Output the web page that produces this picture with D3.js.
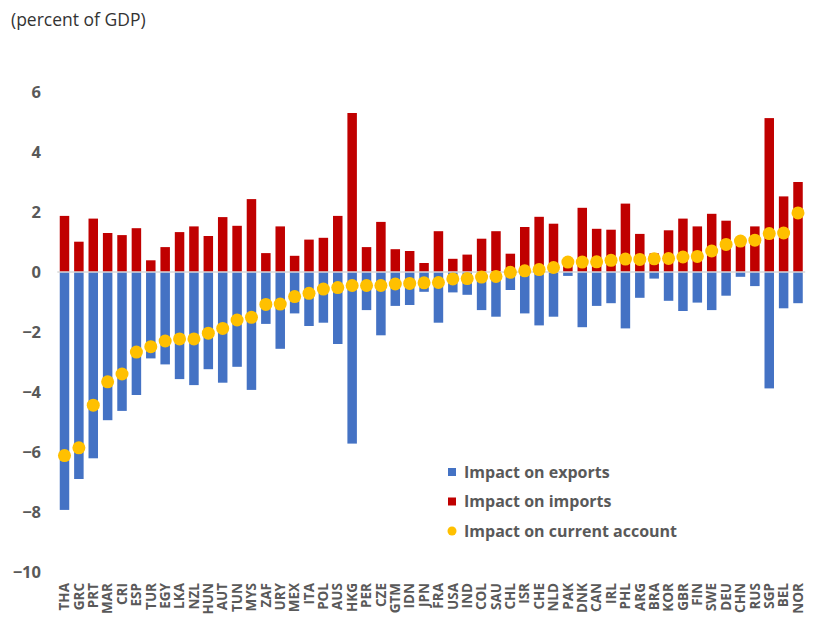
<!DOCTYPE html>
<html>
<head>
<meta charset="utf-8">
<script src="https://cdn.jsdelivr.net/npm/d3@7"></script>
<style>
  body { margin: 0; background: #fff; }
  text { font-family: "Open Sans", "Liberation Sans", sans-serif; }
</style>
</head>
<body>
<div id="chart"></div>
<script>
// Chart data
var countries = ["THA", "GRC", "PRT", "MAR", "CRI", "ESP", "TUR", "EGY", "LKA", "NZL", "HUN", "AUT", "TUN",
    "MYS", "ZAF", "URY", "MEX", "ITA", "POL", "AUS", "HKG", "PER", "CZE", "GTM", "IDN", "JPN", "FRA", "USA",
    "IND", "COL", "SAU", "CHL", "ISR", "CHE", "NLD", "PAK", "DNK", "CAN", "IRL", "PHL", "ARG", "BRA", "KOR",
    "GBR", "FIN", "SWE", "DEU", "CHN", "RUS", "SGP", "BEL", "NOR"];

var exportsImpact = [-7.93, -6.9, -6.21, -4.94, -4.63, -4.1, -2.88, -3.08, -3.57, -3.77, -3.24, -3.69, -3.16,
    -3.93, -1.73, -2.56, -1.38, -1.8, -1.69, -2.4, -5.72, -1.27, -2.11, -1.13, -1.1, -0.66, -1.69, -0.68,
    -0.76, -1.27, -1.49, -0.6, -1.38, -1.78, -1.49, -0.13, -1.84, -1.13, -1.04, -1.88, -0.86, -0.22, -0.96,
    -1.3, -1.02, -1.27, -0.79, -0.16, -0.47, -3.88, -1.21, -1.04];

var importsImpact = [1.87, 1.01, 1.78, 1.3, 1.23, 1.46, 0.39, 0.83, 1.33, 1.52, 1.2, 1.83, 1.54,
    2.43, 0.63, 1.52, 0.54, 1.08, 1.14, 1.87, 5.3, 0.83, 1.67, 0.76, 0.7, 0.3, 1.36, 0.44,
    0.58, 1.11, 1.36, 0.61, 1.5, 1.84, 1.61, 0.45, 2.14, 1.44, 1.41, 2.28, 1.27, 0.62, 1.39,
    1.78, 1.52, 1.94, 1.71, 1.15, 1.52, 5.13, 2.52, 3.0];

var currentAccount = [-6.12, -5.86, -4.44, -3.66, -3.4, -2.67, -2.49, -2.3, -2.23, -2.23, -2.04, -1.88, -1.6,
    -1.51, -1.08, -1.07, -0.82, -0.71, -0.57, -0.52, -0.45, -0.45, -0.45, -0.4, -0.38, -0.36, -0.35, -0.23,
    -0.22, -0.17, -0.15, -0.01, 0.04, 0.08, 0.15, 0.33, 0.33, 0.34, 0.39, 0.43, 0.42, 0.44, 0.45,
    0.5, 0.52, 0.7, 0.92, 1.03, 1.06, 1.28, 1.3, 1.97];

var yTicks = [6, 4, 2, 0, -2, -4, -6, -8, -10];

var legendLabels = ["Impact on exports", "Impact on imports", "Impact on current account"];
var colors = ["#4472C4", "#C00000", "#FFC000"];

// Build rows from the arrays
var data = countries.map(function (c, i) {
    return { country: c, exp: exportsImpact[i], imp: importsImpact[i], ca: currentAccount[i] };
});

var svgWidth = 817;
var svgHeight = 628;

var svg = d3.select("#chart")
    .append("svg")
    .attr("width", svgWidth)
    .attr("height", svgHeight);

// Scales
var xScale = d3.scaleBand()
    .domain(countries)
    .range([57.3, 805.2])
    .paddingInner(0.34)
    .paddingOuter(0.17);

var yScale = d3.scaleLinear()
    .domain([-10, 6])
    .range([572, 92]);

// Title
svg.append("text")
    .attr("x", 11)
    .attr("y", 26)
    .attr("font-family", "Roboto, sans-serif")
    .attr("font-size", 17.5)
    .attr("fill", "#333")
    .text("(percent of GDP)");

// Y axis (labels only)
var leftAxis = d3.axisLeft(yScale)
    .tickValues(yTicks)
    .tickSize(0)
    .tickPadding(0)
    .tickFormat(d3.format("d"));

var yAxis = svg.append("g")
    .attr("transform", "translate(41, 0)")
    .call(leftAxis);

yAxis.select(".domain").remove();
yAxis.selectAll("text")
    .attr("font-size", 16.5)
    .attr("font-weight", "bold")
    .attr("fill", "#595959")
    .attr("font-family", "'Open Sans', sans-serif");

// Export bars (negative)
svg.append("g").selectAll("rect")
    .data(data)
    .enter()
    .append("rect")
    .attr("x", d => xScale(d.country))
    .attr("width", xScale.bandwidth())
    .attr("y", yScale(0))
    .attr("height", d => yScale(d.exp) - yScale(0))
    .attr("fill", colors[0]);

// Import bars (positive)
svg.append("g").selectAll("rect")
    .data(data)
    .enter()
    .append("rect")
    .attr("x", d => xScale(d.country))
    .attr("width", xScale.bandwidth())
    .attr("y", d => yScale(d.imp))
    .attr("height", d => yScale(0) - yScale(d.imp))
    .attr("fill", colors[1]);

// Zero line
svg.append("line")
    .attr("x1", xScale.range()[0])
    .attr("x2", xScale.range()[1])
    .attr("y1", yScale(0))
    .attr("y2", yScale(0))
    .attr("stroke", "#d9d9d9")
    .attr("stroke-width", 1.5);

// Current account dots
svg.append("g").selectAll("circle")
    .data(data)
    .enter()
    .append("circle")
    .attr("cx", d => xScale(d.country) + xScale.bandwidth() / 2)
    .attr("cy", d => yScale(d.ca))
    .attr("r", 6.5)
    .attr("fill", colors[2]);

// X axis labels
var bottomAxis = d3.axisBottom(xScale).tickSize(0).tickPadding(0);

var xAxis = svg.append("g")
    .attr("transform", "translate(0, 583)")
    .call(bottomAxis);

xAxis.select(".domain").remove();
xAxis.selectAll("text")
    .attr("transform", "rotate(-90)")
    .attr("text-anchor", "end")
    .attr("x", 0)
    .attr("y", 0)
    .attr("dy", "0.35em")
    .attr("font-size", 13.5)
    .attr("font-weight", "bold")
    .attr("fill", "#595959")
    .attr("font-family", "'Open Sans', sans-serif");

// Legend
var legend = svg.append("g")
    .attr("transform", "translate(448, 472)");

legendLabels.forEach(function (label, i) {
    var row = legend.append("g")
        .attr("transform", `translate(0, ${i * 29.5})`);

    if (i < 2) {
        row.append("rect")
            .attr("x", 0)
            .attr("y", -4)
            .attr("width", 8)
            .attr("height", 8)
            .attr("fill", colors[i]);
    } else {
        row.append("circle")
            .attr("cx", 4)
            .attr("cy", 0)
            .attr("r", 4.5)
            .attr("fill", colors[i]);
    }

    row.append("text")
        .attr("x", 16)
        .attr("y", 0)
        .attr("dy", "0.35em")
        .attr("font-size", 16)
        .attr("font-weight", "bold")
        .attr("fill", "#595959")
        .text(label);
});
</script>
</body>
</html>
